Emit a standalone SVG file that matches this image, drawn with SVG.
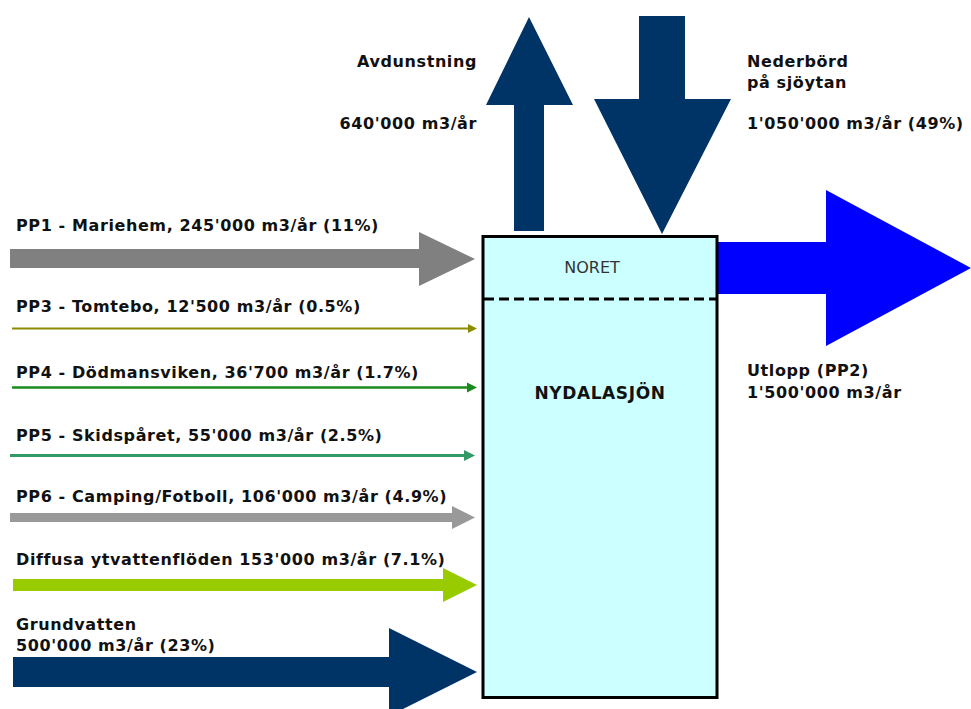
<svg xmlns="http://www.w3.org/2000/svg" width="971" height="709" viewBox="0 0 971 709">
<style>
.lbl{font-family:"DejaVu Sans",Verdana,sans-serif;font-size:16px;font-weight:bold;letter-spacing:0.6px;fill:#111}
.navy{fill:#003366}
</style>
<rect width="971" height="709" fill="#ffffff"/>
<g id="connectors">
  <g id="avdunstning-arrow"><polygon class="navy" points="514,231 544,231 544,105 573,105 529,17 486,105 514,105"/></g>
  <g id="nederbord-arrow"><polygon class="navy" points="639,16 685,16 685,99 731,99 662,234 594,99 639,99"/></g>
  <g id="utlopp-arrow"><polygon fill="#0000FF" points="718,242 826,242 826,190 971,268 826,346 826,294 718,294"/></g>
  <g id="pp1-arrow"><polygon fill="#808080" points="10,249 419,249 419,232 475,259 419,286 419,268 10,268"/></g>
  <g id="pp3-arrow"><line x1="12" y1="328.5" x2="469" y2="328.5" stroke="#8c8c00" stroke-width="2"/><polygon fill="#8c8c00" points="468,324 477,328.5 468,333"/></g>
  <g id="pp4-arrow"><line x1="12" y1="387.5" x2="469" y2="387.5" stroke="#1a8a1a" stroke-width="2.5"/><polygon fill="#1a8a1a" points="467,382.5 477,387.5 467,392.5"/></g>
  <g id="pp5-arrow"><line x1="10" y1="455.5" x2="466" y2="455.5" stroke="#339966" stroke-width="3"/><polygon fill="#339966" points="464,450 475,455.5 464,461"/></g>
  <g id="pp6-arrow"><polygon fill="#999999" points="10,513 452,513 452,506 475,517.5 452,529 452,522 10,522"/></g>
  <g id="diffusa-arrow"><polygon fill="#99CC00" points="13,579 443,579 443,568 477,585 443,602 443,591 13,591"/></g>
  <g id="grundvatten-arrow"><polygon class="navy" points="13,657 389,657 389,628 477,672 389,716 389,687 13,687"/></g>
</g>
<g id="lake">
  <rect x="483" y="236.5" width="234" height="461" fill="#CCFFFF" stroke="#000" stroke-width="3"/>
  <line x1="484" y1="299" x2="716" y2="299" stroke="#000" stroke-width="3" stroke-dasharray="10,5"/>
  <text x="592" y="273" text-anchor="middle" font-family="DejaVu Sans,Verdana,sans-serif" font-size="16" fill="#333">NORET</text>
  <text x="600" y="399" text-anchor="middle" font-family="DejaVu Sans,Verdana,sans-serif" font-size="17" font-weight="bold" letter-spacing="0.6" fill="#111">NYDALASJÖN</text>
</g>
<g id="labels">
  <text class="lbl" x="477" y="67" text-anchor="end">Avdunstning</text>
  <text class="lbl" x="477" y="129" text-anchor="end">640'000 m3/år</text>
  <text class="lbl" x="747" y="67">Nederbörd</text>
  <text class="lbl" x="747" y="88">på sjöytan</text>
  <text class="lbl" x="747" y="129">1'050'000 m3/år (49%)</text>
  <text class="lbl" x="747" y="376">Utlopp (PP2)</text>
  <text class="lbl" x="747" y="398">1'500'000 m3/år</text>
  <text class="lbl" x="16" y="231">PP1 - Mariehem, 245'000 m3/år (11%)</text>
  <text class="lbl" x="16" y="312">PP3 - Tomtebo, 12'500 m3/år (0.5%)</text>
  <text class="lbl" x="16" y="378">PP4 - Dödmansviken, 36'700 m3/år (1.7%)</text>
  <text class="lbl" x="16" y="441">PP5 - Skidspåret, 55'000 m3/år (2.5%)</text>
  <text class="lbl" x="16" y="502">PP6 - Camping/Fotboll, 106'000 m3/år (4.9%)</text>
  <text class="lbl" x="16" y="565">Diffusa ytvattenflöden 153'000 m3/år (7.1%)</text>
  <text class="lbl" x="16" y="630">Grundvatten</text>
  <text class="lbl" x="16" y="651">500'000 m3/år (23%)</text>
</g>
</svg>
